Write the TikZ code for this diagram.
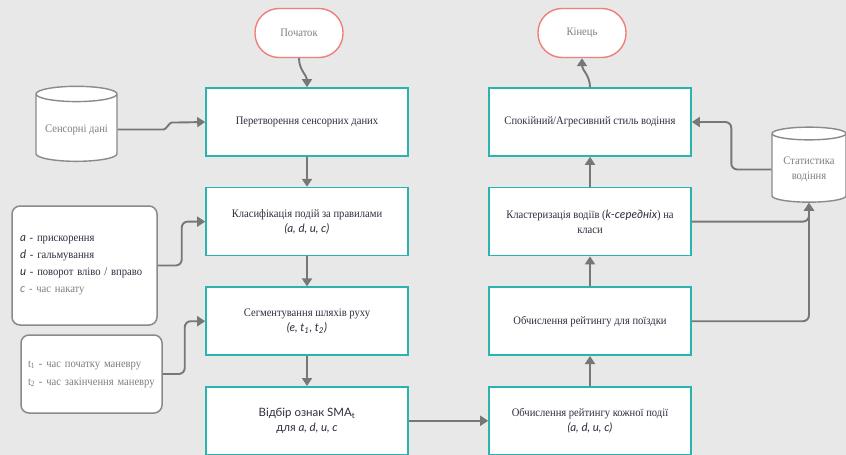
\documentclass[tikz,border=0pt]{standalone}
\usepackage{fontspec}
\setmainfont{Liberation Serif}[FakeStretch=0.92]
\newfontfamily\latofont{Lato}
\usetikzlibrary{shapes.geometric,arrows.meta,positioning}

\definecolor{boxline}{HTML}{2BB3B1}
\definecolor{termline}{HTML}{F07F7B}
\definecolor{arrowgray}{HTML}{777777}
\definecolor{storeline}{HTML}{8A8A8A}
\definecolor{bggray}{HTML}{E8E8E8}
\definecolor{textdark}{HTML}{2E2E3E}
\definecolor{textgray}{HTML}{7F7F7F}

\newcommand{\sit}[1]{{\latofont\itshape #1}}

\def\colL{307}
\def\colR{590}

\begin{document}
\begin{tikzpicture}[x=1pt,y=-1pt,node distance=30pt,
    font=\fontsize{11.5}{15}\selectfont]
    \tikzset{process/.style={rectangle,draw=boxline,line width=1.6pt,fill=white,
        minimum width=202pt,minimum height=68pt,align=center,text=textdark}}
    \tikzset{terminal/.style={rectangle,rounded corners=24pt,draw=termline,line width=1.4pt,
        fill=white,minimum width=88pt,minimum height=49pt,text=textgray}}
    \tikzset{store/.style={cylinder,shape border rotate=90,aspect=0.22,draw=storeline,
        line width=1.4pt,fill=white,align=center,text=textgray}}
    \tikzset{legend/.style={rectangle,rounded corners=8pt,draw=storeline,line width=1.5pt,
        fill=white,align=left,inner sep=0pt}}
    \tikzset{flow/.style={-{Triangle[length=8pt,width=10pt]},draw=arrowgray,line width=1.9pt,
        rounded corners=6pt}}

    \path[fill=bggray,use as bounding box] (0,0) rectangle (846,455);

    % start and end
    \node[terminal] (start) at (299,33) {Початок};
    \node[terminal] (end) at (582,33) {Кінець};

    % left column
    \node[process] (box1) at (\colL,122) {Перетворення сенсорних даних};
    \node[process,below=of box1] (box2) {Класифікація подій за правилами\\ \sit{(a, d, u, c)}};
    \node[process,below=of box2] (box3) {Сегментування шляхів руху\\ \sit{(e, t\textsubscript{1}, t\textsubscript{2})}};
    \node[process,below=of box3] (box4) {{\latofont Відбір ознак SMA\textsubscript{t}}\\ {\latofont для} \sit{a, d, u, c}};

    % right column
    \node[process] (r1) at (\colR,122) {Спокійний/Агресивний стиль водіння};
    \node[process,below=of r1] (r2) {Кластеризація водіїв (\sit{k-середніх}) на\\ класи};
    \node[process,below=of r2] (r3) {Обчислення рейтингу для поїздки};
    \node[process,below=of r3] (r4) {Обчислення рейтингу кожної події\\ \sit{(a, d, u, c)}};

    % data stores
    \node[store,minimum width=81pt,minimum height=75pt] (sens) at (76.5,129.5) {Сенсорні дані};
    \node[store,minimum width=74pt,minimum height=75pt] (stat) at (809,169.5) {Статистика\\ водіння};

    % legends
    \node[legend,minimum width=145pt,minimum height=119pt,text width=129pt,
        font=\fontsize{11.5}{17}\selectfont,text=textdark] (leg1) at (84.5,265.5)
        {\sit{a} - прискорення\\ \sit{d} - гальмування\\
         \sit{u} - поворот вліво / вправо\\ \textcolor{textgray}{\sit{c} - час накату}};
    \node[legend,minimum width=141pt,minimum height=78pt,text width=127pt,
        font=\fontsize{11.5}{18}\selectfont,text=textgray] (leg2) at (91.5,374)
        {t\textsubscript{1} - час початку маневру\\ t\textsubscript{2} - час закінчення маневру};

    % connectors
    \draw[flow] (start.south) to[out=-90,in=90] (box1.north);
    \draw[flow] (sens.east) -- ++(40,0) to[out=0,in=180] ++(20,-7) -- (box1.west);
    \draw[flow] (box1) -- (box2);
    \draw[flow] (box2) -- (box3);
    \draw[flow] (box3) -- (box4);
    \draw[flow] (leg1.east) -- ++(24,0) |- (box2.west);
    \draw[flow] (leg2.east) -- ++(22,0) |- (box3.west);
    \draw[flow] (box4) -- (r4);
    \draw[flow] (r4) -- (r3);
    \draw[flow] (r3) -- (r2);
    \draw[flow] (r2) -- (r1);
    \draw[flow] (r1.north) to[out=90,in=-90] (end.south);
    \draw[flow] (r2.east) -| (stat.south);
    \draw[flow] (r3.east) -| (stat.south);
    \draw[flow] (stat.west) -- ++(-40,0) |- (r1.east);
\end{tikzpicture}
\end{document}
